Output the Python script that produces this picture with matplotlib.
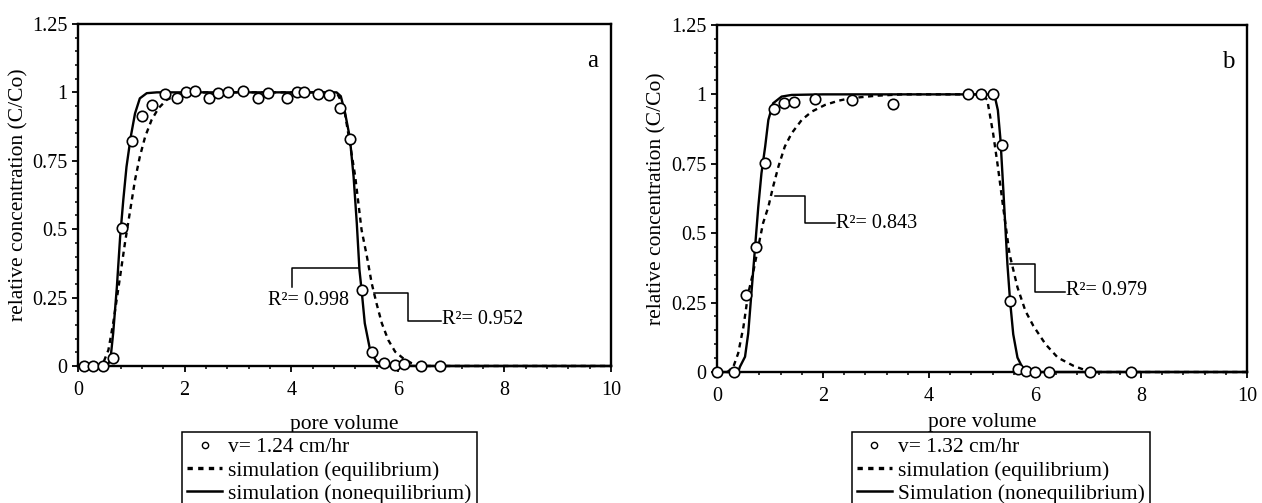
import matplotlib
matplotlib.use("Agg")
import matplotlib.pyplot as plt
from matplotlib.lines import Line2D
from matplotlib.ticker import MultipleLocator

plt.rcParams["font.family"] = ["Liberation Serif", "DejaVu Serif"]

# ---- panel a : v = 1.24 cm/hr ----
a_obs_x = [0.11, 0.29, 0.47, 0.65, 0.83, 1.02, 1.21, 1.38, 1.64, 1.85, 2.02, 2.20,
           2.46, 2.63, 2.82, 3.10, 3.37, 3.56, 3.92, 4.10, 4.24, 4.50, 4.71, 4.92,
           5.11, 5.32, 5.52, 5.74, 5.94, 6.12, 6.43, 6.79]
a_obs_y = [0.0, 0.0, 0.0, 0.028, 0.503, 0.823, 0.915, 0.952, 0.993, 0.98, 1.001, 1.005,
           0.98, 0.996, 1.001, 1.005, 0.98, 0.996, 0.98, 1.001, 1.001, 0.995, 0.99, 0.942,
           0.83, 0.276, 0.051, 0.012, 0.005, 0.006, 0.0, 0.0]

a_eq_x = [0, 0.45, 0.57, 0.66, 0.79, 0.88, 0.98, 1.07, 1.16, 1.26, 1.38, 1.51, 1.66,
          1.85, 2.10, 2.5, 3.0, 4.0, 4.85, 4.92, 5.01, 5.10, 5.20, 5.26, 5.32, 5.42,
          5.51, 5.60, 5.70, 5.82, 5.95, 6.10, 6.26, 6.42, 10]
a_eq_y = [0, 0, 0.058, 0.156, 0.327, 0.448, 0.57, 0.68, 0.765, 0.838, 0.899, 0.942, 0.972,
          0.99, 0.999, 1.0, 1.0, 1.0, 1.0, 0.974, 0.92, 0.815, 0.693, 0.595, 0.497, 0.40,
          0.302, 0.229, 0.156, 0.095, 0.052, 0.028, 0.01, 0, 0]

a_neq_x = [0, 0.55, 0.60, 0.62, 0.66, 0.73, 0.79, 0.85, 0.91, 0.99, 1.07, 1.16, 1.29,
           1.48, 2.0, 3.0, 4.0, 4.85, 4.93, 5.01, 5.10, 5.17, 5.23, 5.28, 5.32, 5.38,
           5.48, 5.60, 5.79, 6.5, 10]
a_neq_y = [0, 0, 0.02, 0.045, 0.12, 0.29, 0.47, 0.607, 0.728, 0.838, 0.923, 0.978, 0.997,
           1.0, 1.0, 1.0, 1.0, 1.0, 0.986, 0.925, 0.834, 0.692, 0.522, 0.351, 0.278, 0.156,
           0.058, 0.016, 0.001, 0, 0]

# ---- panel b : v = 1.32 cm/hr ----
b_obs_x = [0.0, 0.33, 0.547, 0.74, 0.91, 1.08, 1.27, 1.45, 1.85, 2.54, 3.32, 4.74,
           4.99, 5.21, 5.37, 5.53, 5.68, 5.84, 6.0, 6.27, 7.04, 7.82]
b_obs_y = [0.0, 0.0, 0.276, 0.449, 0.753, 0.949, 0.97, 0.973, 0.983, 0.98, 0.967, 1.0,
           1.0, 1.0, 0.817, 0.254, 0.012, 0.002, 0.0, 0.0, 0.0, 0.0]

b_eq_x = [0, 0.2, 0.31, 0.40, 0.50, 0.59, 0.68, 0.78, 0.87, 0.97, 1.06, 1.16, 1.28, 1.41,
          1.60, 1.79, 2.04, 2.29, 2.51, 3.0, 3.5, 5.0, 5.10, 5.21, 5.30, 5.40, 5.52, 5.67,
          5.82, 5.97, 6.20, 6.43, 6.73, 6.96, 7.11, 10]
b_eq_y = [0, 0, 0.019, 0.067, 0.163, 0.283, 0.356, 0.451, 0.536, 0.595, 0.668, 0.74, 0.812,
          0.86, 0.908, 0.938, 0.962, 0.977, 0.986, 0.995, 1.0, 1.0, 0.98, 0.86, 0.74, 0.594,
          0.425, 0.305, 0.22, 0.166, 0.10, 0.052, 0.022, 0.006, 0, 0]

b_neq_x = [0, 0.40, 0.434, 0.53, 0.59, 0.65, 0.72, 0.78, 0.84, 0.91, 0.97, 1.06, 1.22,
           1.41, 2.0, 3.0, 4.0, 5.15, 5.25, 5.30, 5.35, 5.40, 5.48, 5.53, 5.59, 5.67, 5.78,
           5.90, 10]
b_neq_y = [0, 0, 0.019, 0.055, 0.139, 0.283, 0.451, 0.595, 0.716, 0.812, 0.908, 0.968,
           0.992, 0.998, 1.0, 1.0, 1.0, 1.0, 0.986, 0.943, 0.835, 0.666, 0.389, 0.257, 0.136,
           0.052, 0.01, 0, 0]

x_ticks = [0, 2, 4, 6, 8, 10]
y_ticks = [0, 0.25, 0.5, 0.75, 1, 1.25]
y_tick_labels = ["0", "0.25", "0.5", "0.75", "1", "1.25"]

DASH = (0, (2.2, 1.9))

panels = [
    dict(rect=[0.0618, 0.2724, 0.4224, 0.680], obs=(a_obs_x, a_obs_y),
         eq=(a_eq_x, a_eq_y), neq=(a_neq_x, a_neq_y), tag="a", xlabelpad=11,
         labels=["v= 1.24 cm/hr", "simulation (equilibrium)", "simulation (nonequilibrium)"],
         legend_xy=(0.1442, 0.1412),
         notes=[([4.02, 4.02, 5.28], [0.29, 0.357, 0.357], (3.56, 0.241), "R\u00b2= 0.998"),
                ([5.55, 6.20, 6.20, 6.81], [0.266, 0.266, 0.166, 0.166], (6.83, 0.17), "R\u00b2= 0.952")]),
    dict(rect=[0.5681, 0.2604, 0.420, 0.690], obs=(b_obs_x, b_obs_y),
         eq=(b_eq_x, b_eq_y), neq=(b_neq_x, b_neq_y), tag="b", xlabelpad=5.5,
         labels=["v= 1.32 cm/hr", "simulation (equilibrium)", "Simulation (nonequilibrium)"],
         legend_xy=(0.675, 0.1412),
         notes=[([1.094, 1.66, 1.66, 2.23], [0.635, 0.635, 0.536, 0.536], (2.25, 0.536), "R\u00b2= 0.843"),
                ([5.52, 6.0, 6.0, 6.56], [0.389, 0.389, 0.289, 0.289], (6.58, 0.295), "R\u00b2= 0.979")]),
]

fig = plt.figure(figsize=(12.62, 5.03), dpi=100)

# legend handles (the dashed one has heavier dashes, as in the original)
h_obs = Line2D([], [], ls="none", marker="o", ms=4.5, mfc="white", mec="black", mew=1.0)
h_eq = Line2D([], [], color="black", lw=2.4, ls=(0, (1.6, 1.6)))
h_neq = Line2D([], [], color="black", lw=1.8)

for p in panels:
    ax = fig.add_axes(p["rect"])
    ax.plot(*p["obs"], "o", ms=7.5, mfc="white", mec="black", mew=1.2,
            zorder=5, clip_on=False)
    ax.plot(*p["eq"], color="black", lw=1.7, ls=DASH, zorder=3, clip_on=False)
    ax.plot(*p["neq"], color="black", lw=1.7, zorder=4, clip_on=False)

    for xs, ys, (tx, ty), txt in p["notes"]:
        ax.plot(xs, ys, color="black", lw=1.1, zorder=2)
        ax.text(tx, ty, txt, fontsize=14.5, ha="left", va="center")

    ax.text(0.976, 0.875, p["tag"], transform=ax.transAxes, fontsize=18,
            ha="right", va="baseline")

    ax.set_xlim(0, 10)
    ax.set_ylim(0, 1.25)
    ax.set_xticks(x_ticks)
    ax.set_yticks(y_ticks)
    ax.set_yticklabels(y_tick_labels)
    ax.xaxis.set_minor_locator(MultipleLocator(0.4))
    ax.yaxis.set_minor_locator(MultipleLocator(0.05))
    ax.tick_params(which="major", direction="out", length=4.5, width=1.3, labelsize=14.5)
    ax.tick_params(which="minor", direction="out", length=2.5, width=1.1)
    ax.tick_params(axis="x", pad=6)
    ax.tick_params(axis="y", pad=3)
    for s in ax.spines.values():
        s.set_linewidth(1.7)
    ax.set_xlabel("pore volume", fontsize=15.5, labelpad=p["xlabelpad"])
    ax.set_ylabel("relative concentration (C/Co)", fontsize=15.5, labelpad=3)

    leg = fig.legend([h_obs, h_eq, h_neq], p["labels"], loc="upper left",
                     bbox_to_anchor=p["legend_xy"], bbox_transform=fig.transFigure,
                     fontsize=15.5, frameon=True, fancybox=False, edgecolor="black",
                     framealpha=1, borderpad=0.25, borderaxespad=0, labelspacing=0.14,
                     handlelength=1.6, handletextpad=0.3)
    leg.get_frame().set_linewidth(1.1)

fig.savefig("out.png", dpi=100)
plt.close(fig)
